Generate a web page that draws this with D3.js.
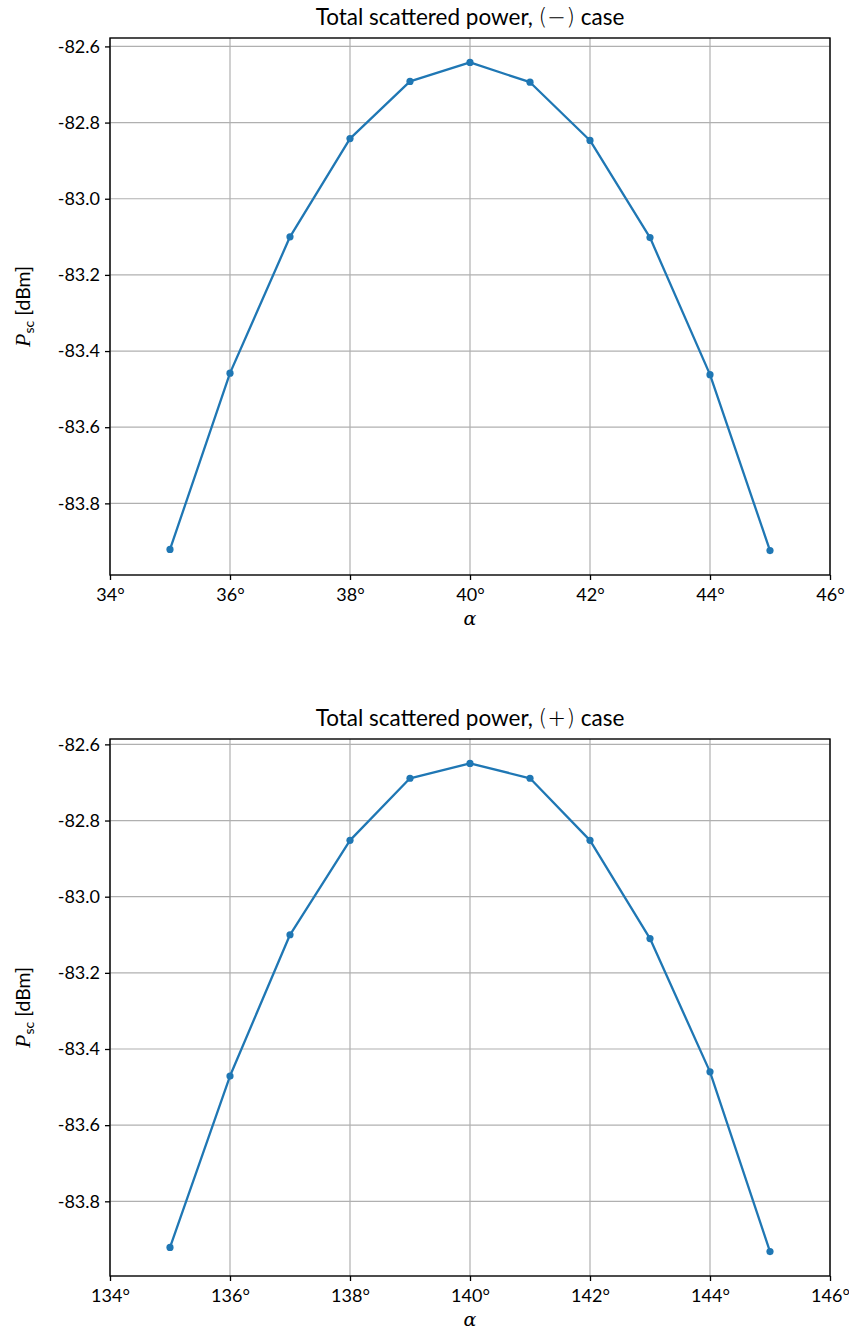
<!DOCTYPE html>
<html>
<head>
<meta charset="utf-8">
<script src="https://cdn.jsdelivr.net/npm/d3@7"></script>
<style>
  html, body { margin: 0; padding: 0; background: #fff; }
  svg { display: block; }
  .tick text { font-family: Lato, "Open Sans", sans-serif; }
</style>
</head>
<body>
<script>
// Total scattered power vs. incidence angle, two cases
const alphaMinus = [35, 36, 37, 38, 39, 40, 41, 42, 43, 44, 45];
const powerMinus = [-83.921, -83.458, -83.100, -82.842, -82.692, -82.642, -82.694, -82.847, -83.102, -83.462, -83.924];

const alphaPlus = [135, 136, 137, 138, 139, 140, 141, 142, 143, 144, 145];
const powerPlus = [-83.921, -83.471, -83.100, -82.852, -82.689, -82.650, -82.689, -82.852, -83.110, -83.460, -83.932];

const xTicksMinus = [34, 36, 38, 40, 42, 44, 46];
const xTicksPlus = [134, 136, 138, 140, 142, 144, 146];
const yTicks = [-82.6, -82.8, -83.0, -83.2, -83.4, -83.6, -83.8];

const titleMinus = ["Total scattered power, ", "(\u2212)", " case"];
const titlePlus = ["Total scattered power, ", "(+)", " case"];

const W = 849, H = 1330;
const svg = d3.select("body").append("svg").attr("width", W).attr("height", H);

const lineColor = "#1f77b4";
const gridColor = "#b0b0b0";

function panel(cfg) {
  const { top, bottom, left, right, xs, ys, xTicks, title } = cfg;
  const g = svg.append("g");

  const x = d3.scaleLinear().domain([xTicks[0], xTicks[xTicks.length - 1]]).range([left, right]);
  const lo = d3.min(ys), hi = d3.max(ys), pad = (hi - lo) * 0.05;
  const y = d3.scaleLinear().domain([lo - pad, hi + pad]).range([bottom, top]);

  // grid
  g.append("g").selectAll("line.vg").data(xTicks).join("line")
    .attr("x1", d => x(d)).attr("x2", d => x(d))
    .attr("y1", top).attr("y2", bottom)
    .attr("stroke", gridColor).attr("stroke-width", 1.2);
  g.append("g").selectAll("line.hg").data(yTicks).join("line")
    .attr("x1", left).attr("x2", right)
    .attr("y1", d => y(d)).attr("y2", d => y(d))
    .attr("stroke", gridColor).attr("stroke-width", 1.2);

  // data line and markers
  const pts = xs.map((a, i) => [a, ys[i]]);
  g.append("path").datum(pts)
    .attr("fill", "none").attr("stroke", lineColor).attr("stroke-width", 2.3)
    .attr("stroke-linejoin", "round")
    .attr("d", d3.line().x(d => x(d[0])).y(d => y(d[1])));
  g.append("g").selectAll("circle").data(pts).join("circle")
    .attr("cx", d => x(d[0])).attr("cy", d => y(d[1])).attr("r", 3.6)
    .attr("fill", lineColor);

  // axes
  const xAxis = d3.axisBottom(x).tickValues(xTicks).tickSize(5).tickPadding(4)
    .tickFormat(d => d + "\u00B0");
  const xg = g.append("g").attr("transform", `translate(0,${bottom})`).call(xAxis);
  const yAxis = d3.axisLeft(y).tickValues(yTicks).tickSize(5).tickPadding(5)
    .tickFormat(d3.format(".1f"));
  const yg = g.append("g").attr("transform", `translate(${left},0)`).call(yAxis);
  [xg, yg].forEach(a => {
    a.select(".domain").remove();
    a.selectAll(".tick line").attr("stroke", "#000").attr("stroke-width", 1.3);
    a.selectAll(".tick text").attr("fill", "#000").attr("font-size", 18);
  });
  yg.selectAll(".tick text").text(d => d3.format(".1f")(d).replace("\u2212", "-"));
  xg.selectAll(".tick text").attr("dy", "0.95em");

  // frame
  g.append("rect").attr("x", left).attr("y", top)
    .attr("width", right - left).attr("height", bottom - top)
    .attr("fill", "none").attr("stroke", "#000").attr("stroke-width", 1.4);

  // title
  const t = g.append("text").attr("x", (left + right) / 2).attr("y", top - 13)
    .attr("text-anchor", "middle")
    .attr("font-family", "Lato, 'Open Sans', sans-serif").attr("font-size", 22.5);
  t.append("tspan").text(title[0]);
  t.append("tspan").attr("font-family", "'DejaVu Sans', sans-serif").attr("font-weight", 300).text(title[1]);
  t.append("tspan").text(title[2]);

  // x label
  g.append("text").attr("x", (left + right) / 2).attr("y", bottom + 50)
    .attr("text-anchor", "middle")
    .attr("font-family", "'DejaVu Serif', serif").attr("font-style", "italic")
    .attr("font-size", 19).text("\u03B1");

  // y label
  const yl = g.append("text")
    .attr("transform", `translate(30,${(top + bottom) / 2}) rotate(-90)`)
    .attr("text-anchor", "middle")
    .attr("font-family", "Lato, 'Open Sans', sans-serif").attr("font-size", 19.5);
  yl.append("tspan").attr("font-family", "'Liberation Serif', serif")
    .attr("font-style", "italic").attr("font-size", 22).text("P");
  yl.append("tspan").attr("font-size", 14).attr("dy", 4).text("sc");
  yl.append("tspan").attr("dy", -4).text("\u00A0[dBm]");
}

panel({ top: 38, bottom: 575, left: 110, right: 830, xs: alphaMinus, ys: powerMinus, xTicks: xTicksMinus, title: titleMinus });
panel({ top: 739, bottom: 1276, left: 110, right: 830, xs: alphaPlus, ys: powerPlus, xTicks: xTicksPlus, title: titlePlus });
</script>
</body>
</html>
